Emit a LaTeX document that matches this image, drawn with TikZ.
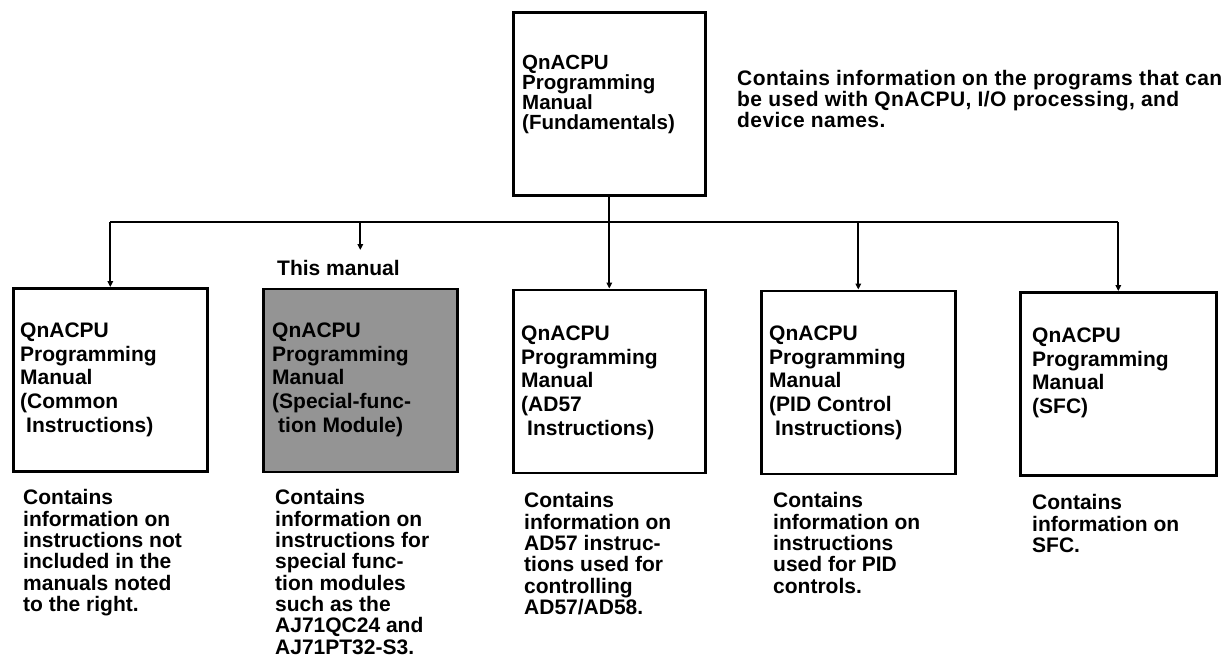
\documentclass[tikz,border=0pt]{standalone}
\usepackage{fontspec}
\setmainfont{Liberation Sans}
\newfontfamily\lsfont{Liberation Sans}[LetterSpace=2]
\usetikzlibrary{arrows.meta}
\begin{document}
\begin{tikzpicture}[x=1pt,y=-1pt,
  mbox/.style={draw=black,line width=2.6pt,minimum width=#1,minimum height=183pt,inner sep=0pt,anchor=north west},
  shaded/.style={fill=black!42},
  btxt/.style={anchor=north west,inner sep=0pt,align=left,font=\bfseries\fontsize{21}{23.7}\selectfont},
  ttxt/.style={anchor=north west,inner sep=0pt,align=left,font=\bfseries\fontsize{20.5}{20}\selectfont},
  dtxt/.style={anchor=north west,inner sep=0pt,align=left,font=\bfseries\fontsize{21}{21.3}\selectfont},
  wtxt/.style={anchor=north west,inner sep=0pt,align=left,font=\lsfont\bfseries\fontsize{21}{21}\selectfont},
  conn/.style={line width=1.8pt},
  arr/.style={line width=1.8pt,-{Triangle[length=6pt,width=5.5pt]}}]
\useasboundingbox (0,0) rectangle (1231,657);

% boxes
\node[mbox=192pt] (top) at (512,11) {};
\node[mbox=194pt] (b1) at (12,287) {};
\node[mbox=194pt,shaded] (b2) at (262,287.5) {};
\node[mbox=192pt] (b3) at (512,288.5) {};
\node[mbox=194pt] (b4) at (760,289.5) {};
\node[mbox=196pt] (b5) at (1019,291) {};

% box texts
\node[ttxt] (ttop) at (522,54.5) {QnACPU\\Programming\\Manual\\(Fundamentals)};
\node[btxt] (t1) at (20,322.5) {QnACPU\\Programming\\Manual\\(Common\\\hspace*{6pt}Instructions)};
\node[btxt] (t2) at (272,322.5) {QnACPU\\Programming\\Manual\\(Special-func-\\\hspace*{6pt}tion Module)};
\node[btxt] (t3) at (521,325.5) {QnACPU\\Programming\\Manual\\(AD57\\\hspace*{6pt}Instructions)};
\node[btxt] (t4) at (769,325.5) {QnACPU\\Programming\\Manual\\(PID Control\\\hspace*{6pt}Instructions)};
\node[btxt] (t5) at (1032,327.5) {QnACPU\\Programming\\Manual\\(SFC)};

% descriptions
\node[wtxt] (dtop) at (737,70.5) {Contains information on the programs that can\\be used with QnACPU, I/O processing, and\\device names.};
\node[dtxt] (d1) at (23,489.5) {Contains\\information on\\instructions not\\included in the\\manuals noted\\to the right.};
\node[dtxt] (d2) at (275,489.5) {Contains\\information on\\instructions for\\special func-\\tion modules\\such as the\\AJ71QC24 and\\AJ71PT32-S3.};
\node[dtxt] (d3) at (524,492.5) {Contains\\information on\\AD57 instruc-\\tions used for\\controlling\\AD57/AD58.};
\node[dtxt] (d4) at (773,492.5) {Contains\\information on\\instructions\\used for PID\\controls.};
\node[dtxt] (d5) at (1032,494.5) {Contains\\information on\\SFC.};

\node[dtxt] (lbl) at (277,260.5) {This manual};

% connectors
\coordinate (h1) at (b1.north |- 0,222);
\coordinate (h2) at (b2.north |- 0,222);
\coordinate (h4) at (b4.north |- 0,222);
\coordinate (h5) at (b5.north |- 0,222);
\coordinate (lbltop) at (b2.north |- 0,250);
\draw[conn] (h1) -- (h5);
\draw[arr] (top.south) -- (b3.north);
\draw[arr] (h1) -- (b1.north);
\draw[arr] (h2) -- (lbltop);
\draw[arr] (h4) -- (b4.north);
\draw[arr] (h5) -- (b5.north);
\end{tikzpicture}
\end{document}
